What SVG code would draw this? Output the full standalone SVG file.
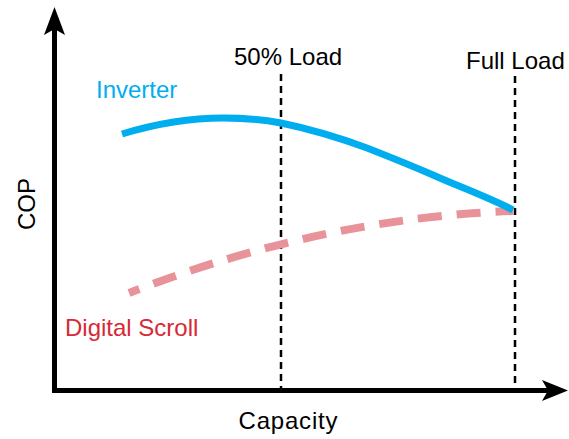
<svg xmlns="http://www.w3.org/2000/svg" width="569" height="439" viewBox="0 0 569 439">
<style>
text{font-family:"Liberation Sans",Arial,sans-serif;font-size:24px;fill:#000}
.axis{stroke:#000;stroke-width:5;fill:none}
.guide{stroke:#000;stroke-width:2.5;stroke-dasharray:7 5;fill:none}
.inv{stroke:#00AEEF;stroke-width:7;fill:none}
.ds{stroke:#E8939A;stroke-width:8;stroke-dasharray:24 15;stroke-dashoffset:13;fill:none}
</style>
<rect width="569" height="439" fill="#fff"/>
<g id="axes">
<line class="axis" x1="54.5" y1="393" x2="54.5" y2="28"/>
<polygon points="54.5,7 65,35 54.5,29 44,35" fill="#000"/>
<line class="axis" x1="52" y1="390.5" x2="548" y2="390.5"/>
<polygon points="568,390.5 542,380 548,390.5 542,401" fill="#000"/>
<text x="288" y="429" text-anchor="middle" textLength="99">Capacity</text>
<text transform="translate(35,204) rotate(-90)" text-anchor="middle">COP</text>
</g>
<g id="guides">
<line class="guide" x1="281" y1="74" x2="281" y2="390"/>
<line class="guide" x1="515" y1="76" x2="515" y2="390"/>
<text x="234" y="65">50% Load</text>
<text x="466" y="69">Full Load</text>
</g>
<g id="digital-scroll">
<path class="ds" d="M129,293 Q321,218 513,211"/>
<text x="65" y="336" style="fill:#D72A36">Digital Scroll</text>
</g>
<g id="inverter">
<path class="inv" d="M122,134 C155,124 190,118 223,118 C250,118 265,120 281,123 C310,129 340,138 367,148 C390,157 410,165 433,175 C460,187 490,198 513,210"/>
<text x="96" y="98" style="fill:#00AEEF">Inverter</text>
</g>
</svg>
